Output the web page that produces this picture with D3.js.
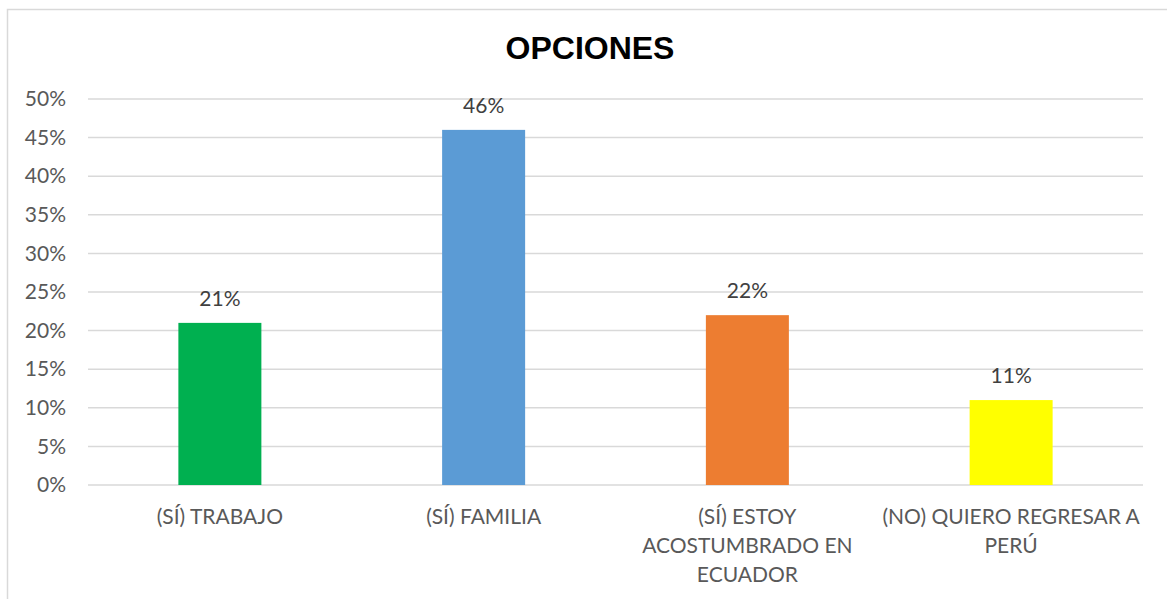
<!DOCTYPE html>
<html>
<head>
<meta charset="utf-8">
<script src="https://cdn.jsdelivr.net/npm/d3@7"></script>
<style>
  body { margin: 0; background: #fff; }
  text { font-family: Lato, "Open Sans", sans-serif; }
</style>
</head>
<body>
<script>
'use strict';

// données
const categories = ["(SÍ) TRABAJO", "(SÍ) FAMILIA", "(SÍ) ESTOY ACOSTUMBRADO EN ECUADOR", "(NO) QUIERO REGRESAR A PERÚ"];
// découpage des étiquettes tel qu'affiché
const lignesCategories = [
  ["(SÍ) TRABAJO"],
  ["(SÍ) FAMILIA"],
  ["(SÍ) ESTOY", "ACOSTUMBRADO EN", "ECUADOR"],
  ["(NO) QUIERO REGRESAR A", "PERÚ"]
];
const valeurs = [0.21, 0.46, 0.22, 0.11];
const couleurs = ["#00b050", "#5b9bd5", "#ed7d31", "#ffff00"];
const ticks = [0, 0.05, 0.10, 0.15, 0.20, 0.25, 0.30, 0.35, 0.40, 0.45, 0.50];

const W = 1167, H = 599;
const taille = "21px";
const canevas = d3.select("body").append("svg")
  .attr("width", W)
  .attr("height", H);

// cadre
canevas.append("rect")
  .attr("x", 7.5).attr("y", 9.5)
  .attr("width", W + 10).attr("height", H)
  .style("fill", "none")
  .style("stroke", "#d9d9d9")
  .style("stroke-width", 1.5);

// titre
canevas.append("text")
  .attr("x", 590).attr("y", 59)
  .attr("text-anchor", "middle")
  .style("font-family", "'Liberation Sans', Arial, sans-serif")
  .style("font-weight", "bold")
  .style("font-size", "32px")
  .style("fill", "#000")
  .text("OPCIONES");

const x = d3.scaleBand()
  .domain(categories)
  .range([88, 1143])
  .paddingInner(0)
  .paddingOuter(0);

const y = d3.scaleLinear()
  .domain([0, 0.5])
  .range([485, 99]);

// grille
canevas.append("g")
  .selectAll("line")
  .data(ticks)
  .enter()
  .append("line")
    .attr("x1", 88).attr("x2", 1143)
    .attr("y1", d => y(d)).attr("y2", d => y(d))
    .style("stroke", "#d9d9d9")
    .style("stroke-width", 1.5);

// axe des Y
const axeY = canevas.append("g")
  .attr("transform", "translate(66,0)")
  .call(d3.axisLeft(y).tickValues(ticks).tickFormat(d3.format(".0%")).tickSize(0).tickPadding(0));
axeY.select(".domain").remove();
axeY.selectAll("text")
  .style("font-family", "Lato, 'Open Sans', sans-serif")
  .style("font-size", taille)
  .style("fill", "#595959");

// barres
const largeur = 83;
canevas.selectAll("rect.barre")
  .data(valeurs)
  .enter()
  .append("rect")
    .classed("barre", true)
    .attr("x", (d, i) => x(categories[i]) + x.bandwidth() / 2 - largeur / 2)
    .attr("y", d => y(d))
    .attr("width", largeur)
    .attr("height", d => y(0) - y(d))
    .style("fill", (d, i) => couleurs[i]);

// étiquettes de valeur
canevas.selectAll("text.valeur")
  .data(valeurs)
  .enter()
  .append("text")
    .classed("valeur", true)
    .attr("x", (d, i) => x(categories[i]) + x.bandwidth() / 2)
    .attr("y", d => y(d) - 17)
    .attr("text-anchor", "middle")
    .style("font-size", taille)
    .style("fill", "#404040")
    .text(d => d3.format(".0%")(d));

// étiquettes de catégorie
categories.forEach((c, i) => {
  const t = canevas.append("text")
    .attr("text-anchor", "middle")
    .style("font-size", taille)
    .style("fill", "#595959");
  lignesCategories[i].forEach((l, j) => {
    t.append("tspan")
      .attr("x", x(c) + x.bandwidth() / 2)
      .attr("y", 524 + j * 29)
      .text(l);
  });
});
</script>
</body>
</html>
